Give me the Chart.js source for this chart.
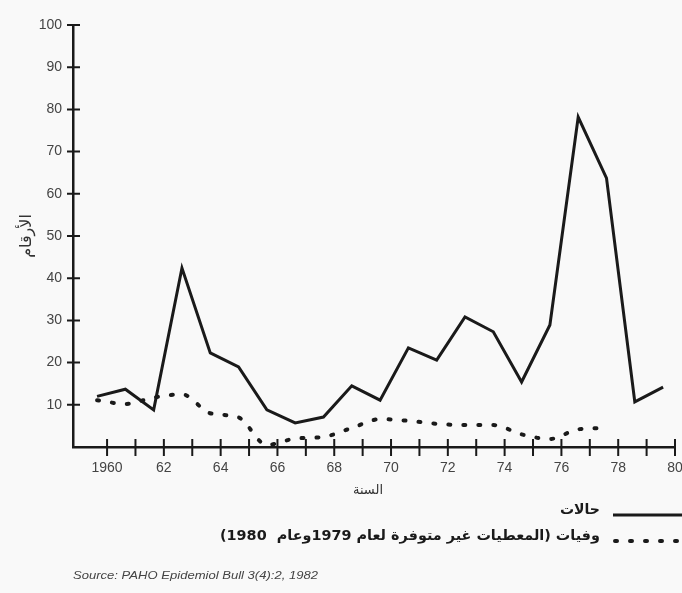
<!DOCTYPE html>
<html>
<head>
<meta charset="utf-8">
<script src="https://cdn.jsdelivr.net/npm/chart.js@4"></script>
<style>
  html, body { margin: 0; padding: 0; background: #f9f9f9; }
  #wrap { width: 682px; height: 593px; }
</style>
</head>
<body>
<div id="wrap"><canvas id="chart" width="682" height="593"></canvas></div>
<script>
// values
const years = [1960, 1961, 1962, 1963, 1964, 1965, 1966, 1967, 1968, 1969, 1970,
               1971, 1972, 1973, 1974, 1975, 1976, 1977, 1978, 1979, 1980];
const cases = [12, 13.7, 8.8, 42.4, 22.3, 19, 8.8, 5.7, 7.1, 14.5, 11.1,
               23.5, 20.6, 30.8, 27.3, 15.4, 28.9, 78.2, 63.7, 10.7, 14.2];
// no data for 1979 and 1980
const deaths = [11.1, 10.2, 11.7, 12.5, 8, 7, 0.5, 2, 2.4, 4.5, 6.6,
                6.2, 5.5, 5.2, 5.2, 3, 1.9, 4.2, 4.5];

const yTicks = [10, 20, 30, 40, 50, 60, 70, 80, 90, 100];
const xLabelYears = [1960, 1962, 1964, 1966, 1968, 1970, 1972, 1974, 1976, 1978, 1980];
const xTickLabels = ["1960", "62", "64", "66", "68", "70", "72", "74", "76", "78", "80"];

const casesLabel = "حالات";
const deathsLabel = "وفيات (المعطيات غير متوفرة لعام 1979وعام  1980)";
const yTitle = "الأرقام";
const xTitle = "السنة";
const sourceText = "Source: PAHO Epidemiol Bull 3(4):2, 1982";

const ink = "#1a1a1a";
const dots = [2, 13];

// tick marks crossing both axes
const crossTicks = {
  id: "crossTicks",
  afterDraw(chart) {
    const { ctx } = chart;
    const xs = chart.scales.xAxis, ys = chart.scales.y;
    ctx.save();
    ctx.strokeStyle = ink;
    ctx.lineWidth = 2;
    ctx.beginPath();
    xs.ticks.forEach(t => {
      const px = xs.getPixelForValue(t.value);
      ctx.moveTo(px, ys.bottom - 8);
      ctx.lineTo(px, ys.bottom + 9);
    });
    ys.ticks.forEach(t => {
      const py = ys.getPixelForValue(t.value);
      ctx.moveTo(xs.left - 6, py);
      ctx.lineTo(xs.left + 7, py);
    });
    ctx.stroke();
    ctx.restore();
  }
};

// draw text stretched/squeezed to a given width
function fitText(ctx, text, x, y, width) {
  const w = ctx.measureText(text).width;
  ctx.save();
  ctx.translate(x, y);
  ctx.scale(width / w, 1);
  ctx.fillText(text, 0, 0);
  ctx.restore();
}

// titles, legend and source line
const extraText = {
  id: "extraText",
  afterDraw(chart) {
    const { ctx } = chart;
    ctx.save();
    ctx.fillStyle = "#333";
    ctx.font = "13px 'DejaVu Sans'";
    ctx.direction = "rtl";
    ctx.textAlign = "center";
    ctx.textBaseline = "middle";
    ctx.fillText(xTitle, 368, 491);

    ctx.save();
    ctx.font = "16px 'DejaVu Sans'";
    ctx.translate(27, 236);
    ctx.rotate(-Math.PI / 2);
    ctx.fillText(yTitle, 0, 0);
    ctx.restore();

    // legend
    ctx.fillStyle = ink;
    ctx.font = "bold 14px 'DejaVu Sans'";
    ctx.textAlign = "right";
    fitText(ctx, casesLabel, 600, 510, 40);
    fitText(ctx, deathsLabel, 600, 536, 380);

    ctx.strokeStyle = ink;
    ctx.lineWidth = 3;
    ctx.beginPath();
    ctx.moveTo(613, 515);
    ctx.lineTo(682, 515);
    ctx.stroke();
    ctx.lineWidth = 4;
    ctx.lineCap = "round";
    ctx.setLineDash(dots);
    ctx.beginPath();
    ctx.moveTo(615, 541);
    ctx.lineTo(682, 541);
    ctx.stroke();
    ctx.setLineDash([]);

    ctx.direction = "ltr";
    ctx.textAlign = "left";
    ctx.fillStyle = "#444";
    ctx.font = "italic 11px 'Liberation Sans'";
    fitText(ctx, sourceText, 73, 576, 245);
    ctx.restore();
  }
};

new Chart(document.getElementById("chart").getContext("2d"), {
  type: "line",
  data: {
    datasets: [
      {
        label: casesLabel,
        data: cases.map((v, i) => ({ x: years[i], y: v })),
        borderColor: ink,
        borderWidth: 3,
        pointRadius: 0,
        tension: 0,
        fill: false
      },
      {
        label: deathsLabel,
        data: deaths.map((v, i) => ({ x: years[i], y: v })),
        borderColor: ink,
        borderWidth: 4,
        borderDash: dots,
        borderCapStyle: "round",
        pointRadius: 0,
        cubicInterpolationMode: "monotone",
        fill: false
      }
    ]
  },
  options: {
    responsive: false,
    animation: false,
    layout: { padding: { left: 0, top: 25, right: 7, bottom: 111 } },
    plugins: { legend: { display: false }, tooltip: { enabled: false } },
    scales: {
      // data axis (the points sit a bit left of the printed ticks)
      x: { type: "linear", min: 1959.15, max: 1980.42, display: false },
      xAxis: {
        type: "linear",
        position: "bottom",
        min: 1958.8,
        max: 1980,
        afterBuildTicks: s => { s.ticks = years.map(v => ({ value: v })); },
        afterFit: s => { s.height = 35; s.paddingLeft = 0; s.paddingRight = 0; },
        ticks: {
          autoSkip: false,
          maxRotation: 0,
          padding: 13,
          color: "#444",
          font: { family: "Liberation Sans", size: 14 },
          callback: v => {
            const k = xLabelYears.indexOf(v);
            return k >= 0 ? xTickLabels[k] : "";
          }
        },
        grid: { display: false, drawTicks: false },
        border: { color: ink, width: 2.5 }
      },
      y: {
        min: 0,
        max: 100,
        afterBuildTicks: s => { s.ticks = yTicks.map(v => ({ value: v })); },
        afterFit: s => { s.width = 73; s.paddingTop = 0; s.paddingBottom = 0; },
        ticks: {
          padding: 11,
          color: "#444",
          font: { family: "Liberation Sans", size: 14 }
        },
        grid: { display: false, drawTicks: false },
        border: { color: ink, width: 2.5 }
      }
    }
  },
  plugins: [crossTicks, extraText]
});
</script>
</body>
</html>
